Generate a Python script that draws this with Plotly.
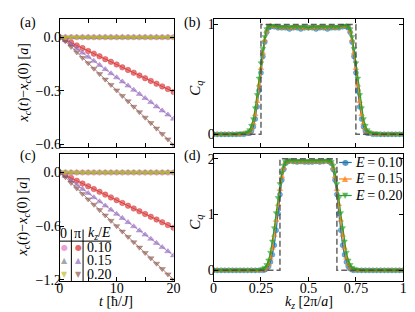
import plotly.graph_objects as go

# ---------------- data ----------------
t = list(range(0, 21))

# panel (a): k_z = pi series
a_pi_010 = [0, -0.013, -0.030, -0.046, -0.061, -0.077, -0.092, -0.107, -0.123, -0.138, -0.153,
            -0.169, -0.184, -0.199, -0.215, -0.230, -0.245, -0.261, -0.276, -0.291, -0.307]
a_pi_015 = [0, -0.017, -0.041, -0.064, -0.087, -0.110, -0.133, -0.156, -0.180, -0.203, -0.226,
            -0.249, -0.272, -0.296, -0.319, -0.342, -0.365, -0.389, -0.412, -0.435, -0.458]
a_pi_020 = [0, -0.022, -0.053, -0.084, -0.115, -0.145, -0.176, -0.206, -0.237, -0.267, -0.298,
            -0.329, -0.359, -0.390, -0.420, -0.451, -0.481, -0.512, -0.543, -0.573, -0.604]
# k_z = 0 series stay at zero
a_0_010 = [0.0] * 21
a_0_015 = [0.0] * 21
a_0_020 = [0.0] * 21

# panel (c)
c_pi_010 = [0, -0.028, -0.061, -0.093, -0.124, -0.155, -0.186, -0.217, -0.248, -0.279, -0.310,
            -0.341, -0.372, -0.403, -0.434, -0.465, -0.496, -0.527, -0.558, -0.589, -0.620]
c_pi_015 = [0, -0.040, -0.091, -0.139, -0.186, -0.232, -0.279, -0.325, -0.372, -0.418, -0.465,
            -0.511, -0.558, -0.604, -0.651, -0.697, -0.744, -0.790, -0.837, -0.883, -0.930]
c_pi_020 = [0, -0.052, -0.116, -0.178, -0.239, -0.300, -0.360, -0.420, -0.480, -0.540, -0.600,
            -0.660, -0.720, -0.780, -0.840, -0.900, -0.960, -1.020, -1.080, -1.140, -1.200]
c_0_010 = [0.0] * 21
c_0_015 = [0.0] * 21
c_0_020 = [0.0] * 21

# panel (b)
kb = [0.00, 0.02, 0.04, 0.06, 0.08, 0.10, 0.12, 0.14, 0.16, 0.18,
      0.19, 0.20, 0.21, 0.22, 0.23, 0.24, 0.25, 0.26, 0.27, 0.28, 0.29, 0.30,
      0.32, 0.34, 0.36, 0.38, 0.40, 0.42, 0.44, 0.46, 0.48, 0.50, 0.52, 0.54, 0.56, 0.58, 0.60, 0.62, 0.64, 0.66, 0.68,
      0.70, 0.71, 0.72, 0.73, 0.74, 0.75, 0.76, 0.77, 0.78, 0.79, 0.80, 0.81,
      0.82, 0.84, 0.86, 0.88, 0.90, 0.92, 0.94, 0.96, 0.98, 1.00]
b_E010 = [0.00, 0.00, 0.00, 0.00, 0.00, 0.00, 0.00, 0.00, 0.00, 0.01,
          0.01, 0.03, 0.07, 0.14, 0.25, 0.40, 0.56, 0.71, 0.84, 0.93, 0.97, 0.98,
          0.98, 0.97, 0.97, 0.97, 0.96, 0.97, 0.97, 0.96, 0.97, 0.97, 0.97, 0.96, 0.97, 0.97, 0.96, 0.97, 0.97, 0.97, 0.98,
          0.98, 0.97, 0.93, 0.84, 0.71, 0.56, 0.40, 0.25, 0.14, 0.07, 0.03, 0.01,
          0.01, 0.00, 0.00, 0.00, 0.00, 0.00, 0.00, 0.00, 0.00, 0.00]
b_E015 = [0.00, 0.00, 0.00, 0.00, 0.00, 0.00, 0.00, 0.00, 0.01, 0.01,
          0.02, 0.05, 0.10, 0.18, 0.30, 0.45, 0.60, 0.74, 0.86, 0.94, 0.98, 0.99,
          0.98, 0.98, 0.97, 0.98, 0.97, 0.97, 0.98, 0.97, 0.97, 0.97, 0.97, 0.97, 0.98, 0.97, 0.97, 0.98, 0.97, 0.98, 0.98,
          0.99, 0.98, 0.94, 0.86, 0.74, 0.60, 0.45, 0.30, 0.18, 0.10, 0.05, 0.02,
          0.01, 0.01, 0.00, 0.00, 0.00, 0.00, 0.00, 0.00, 0.00, 0.00]
b_E020 = [0.00, 0.00, 0.00, 0.00, 0.00, 0.00, 0.00, 0.01, 0.01, 0.02,
          0.04, 0.08, 0.14, 0.24, 0.36, 0.51, 0.65, 0.78, 0.89, 0.96, 0.99, 0.99,
          0.99, 0.98, 0.98, 0.98, 0.98, 0.98, 0.98, 0.98, 0.98, 0.97, 0.98, 0.98, 0.98, 0.98, 0.98, 0.98, 0.98, 0.98, 0.99,
          0.99, 0.99, 0.96, 0.89, 0.78, 0.65, 0.51, 0.36, 0.24, 0.14, 0.08, 0.04,
          0.02, 0.01, 0.01, 0.00, 0.00, 0.00, 0.00, 0.00, 0.00, 0.00]
b_step_k = [0.0, 0.25, 0.25, 0.75, 0.75, 1.0]
b_step_c = [0.0, 0.0, 1.0, 1.0, 0.0, 0.0]

# panel (d)
kd = [0.00, 0.02, 0.04, 0.06, 0.08, 0.10, 0.12, 0.14, 0.16, 0.18, 0.20, 0.22, 0.24, 0.26,
      0.27, 0.28, 0.29, 0.30, 0.31, 0.32, 0.33, 0.34, 0.35, 0.36, 0.37, 0.38, 0.39, 0.40,
      0.42, 0.44, 0.46, 0.48, 0.50, 0.52, 0.54, 0.56, 0.58,
      0.60, 0.61, 0.62, 0.63, 0.64, 0.65, 0.66, 0.67, 0.68, 0.69, 0.70, 0.71, 0.72, 0.73,
      0.74, 0.76, 0.78, 0.80, 0.82, 0.84, 0.86, 0.88, 0.90, 0.92, 0.94, 0.96, 0.98, 1.00]
d_E010 = [0.00, 0.00, 0.00, 0.00, 0.00, 0.00, 0.00, 0.00, 0.00, 0.00, 0.00, 0.00, 0.00, 0.00,
          0.01, 0.03, 0.07, 0.15, 0.28, 0.45, 0.72, 1.02, 1.36, 1.62, 1.81, 1.92, 1.95, 1.96,
          1.95, 1.94, 1.95, 1.94, 1.94, 1.94, 1.95, 1.94, 1.95,
          1.96, 1.95, 1.92, 1.81, 1.62, 1.36, 1.02, 0.72, 0.45, 0.28, 0.15, 0.07, 0.03, 0.01,
          0.00, 0.00, 0.00, 0.00, 0.00, 0.00, 0.00, 0.00, 0.00, 0.00, 0.00, 0.00, 0.00, 0.00]
d_E015 = [0.00, 0.00, 0.00, 0.00, 0.00, 0.00, 0.00, 0.00, 0.00, 0.00, 0.00, 0.00, 0.00, 0.01,
          0.02, 0.05, 0.11, 0.22, 0.40, 0.63, 0.90, 1.18, 1.45, 1.68, 1.84, 1.93, 1.96, 1.96,
          1.95, 1.95, 1.95, 1.95, 1.95, 1.95, 1.95, 1.95, 1.95,
          1.96, 1.96, 1.93, 1.84, 1.68, 1.45, 1.18, 0.90, 0.63, 0.40, 0.22, 0.11, 0.05, 0.02,
          0.01, 0.00, 0.00, 0.00, 0.00, 0.00, 0.00, 0.00, 0.00, 0.00, 0.00, 0.00, 0.00, 0.00]
d_E020 = [0.00, 0.00, 0.00, 0.00, 0.00, 0.00, 0.00, 0.00, 0.00, 0.00, 0.00, 0.00, 0.01, 0.03,
          0.05, 0.10, 0.18, 0.32, 0.52, 0.76, 1.03, 1.30, 1.55, 1.75, 1.88, 1.95, 1.97, 1.97,
          1.96, 1.96, 1.96, 1.96, 1.96, 1.96, 1.96, 1.96, 1.96,
          1.97, 1.97, 1.95, 1.88, 1.75, 1.55, 1.30, 1.03, 0.76, 0.52, 0.32, 0.18, 0.10, 0.05,
          0.03, 0.01, 0.00, 0.00, 0.00, 0.00, 0.00, 0.00, 0.00, 0.00, 0.00, 0.00, 0.00, 0.00]
d_step_k = [0.0, 0.35, 0.35, 0.65, 0.65, 1.0]
d_step_c = [0.0, 0.0, 2.0, 2.0, 0.0, 0.0]

legend_labels = ["0.10", "0.15", "0.20"]

# ---------------- style ----------------
FONT = "Liberation Serif"
W, H = 415, 312

def px_x(p):
    return p / W

def px_y(p):
    return 1 - p / H

RED, PURPLE, BROWN = "214,39,40", "148,103,189", "140,86,75"
PINK, GRAY, OLIVE = "227,119,194", "127,127,127", "188,189,34"
BLUE, ORANGE, GREEN = "31,119,180", "255,127,14", "44,160,44"

def rgba(c, a):
    return "rgba(%s,%s)" % (c, a)

fig = go.Figure()

def add_left(x, y, col, sym, xa, ya):
    fig.add_trace(go.Scatter(
        x=x, y=y, mode="lines+markers", xaxis=xa, yaxis=ya, showlegend=False,
        line=dict(color=rgba(col, 0.9), width=0.8),
        marker=dict(symbol=sym, size=5.5, color=rgba(col, 0.6),
                    line=dict(color=rgba(col, 0.8), width=0.5))))

for (xa, ya, zs, ps) in [("x", "y", (a_0_010, a_0_015, a_0_020), (a_pi_010, a_pi_015, a_pi_020)),
                         ("x3", "y3", (c_0_010, c_0_015, c_0_020), (c_pi_010, c_pi_015, c_pi_020))]:
    add_left(t, ps[0], RED, "circle", xa, ya)
    add_left(t, ps[1], PURPLE, "triangle-up", xa, ya)
    add_left(t, ps[2], BROWN, "triangle-down", xa, ya)
    add_left(t, zs[0], PINK, "circle", xa, ya)
    add_left(t, zs[1], GRAY, "triangle-up", xa, ya)
    add_left(t, zs[2], OLIVE, "triangle-down", xa, ya)

def add_right(x, y, col, sym, xa, ya):
    fig.add_trace(go.Scatter(
        x=x, y=y, mode="lines+markers", xaxis=xa, yaxis=ya, showlegend=False,
        line=dict(color=rgba(col, 1), width=1.2),
        marker=dict(symbol=sym, size=5, color=rgba(col, 0.6),
                    line=dict(color=rgba(col, 0.8), width=0.5))))

for (xa, ya, k, ser) in [("x2", "y2", kb, (b_E010, b_E015, b_E020)),
                         ("x4", "y4", kd, (d_E010, d_E015, d_E020))]:
    for s, col, sym in zip(ser, (BLUE, ORANGE, GREEN), ("circle", "triangle-up", "triangle-down")):
        add_right(k, s, col, sym, xa, ya)

fig.add_trace(go.Scatter(x=b_step_k, y=b_step_c, mode="lines", xaxis="x2", yaxis="y2",
                         showlegend=False, line=dict(color="rgba(70,70,70,0.85)", width=1.5, dash="6px,3px")))
fig.add_trace(go.Scatter(x=d_step_k, y=d_step_c, mode="lines", xaxis="x4", yaxis="y4",
                         showlegend=False, line=dict(color="rgba(70,70,70,0.85)", width=1.5, dash="6px,3px")))

ax_common = dict(showline=True, linecolor="black", linewidth=1, mirror="ticks", ticks="inside",
                 ticklen=4, tickcolor="black", tickwidth=1, showgrid=False, zeroline=False,
                 tickfont=dict(family=FONT, size=14, color="black"))
ax_x = dict(ax_common, ticklabelstandoff=-6)
ax_y = dict(ax_common, ticklabelstandoff=-5)

xl = [px_x(49), px_x(166)]
xr = [px_x(207), px_x(402)]
ytop = [px_y(141), px_y(9)]
ybot = [px_y(279), px_y(148)]

fig.update_layout(
    width=W, height=H, margin=dict(l=0, r=0, t=0, b=0),
    paper_bgcolor="white", plot_bgcolor="white", showlegend=False,
    font=dict(family=FONT, size=14, color="black"),
    xaxis=dict(ax_x, domain=xl, anchor="y", range=[0, 20], tickvals=[0, 5, 10, 15, 20],
               showticklabels=False),
    yaxis=dict(ax_y, domain=ytop, anchor="x", range=[-0.616, 0.104], tickvals=[0, -0.3, -0.6],
               ticktext=["0.0", "\u22120.3", "\u22120.6"]),
    xaxis3=dict(ax_x, domain=xl, anchor="y3", range=[0, 20], tickvals=[0, 5, 10, 15, 20],
                ticktext=["0", "", "10", "", "20"]),
    yaxis3=dict(ax_y, domain=ybot, anchor="x3", range=[-1.215, 0.21], tickvals=[0, -0.6, -1.2],
                ticktext=["0.0", "\u22120.6", "\u22121.2"]),
    xaxis2=dict(ax_x, domain=xr, anchor="y2", range=[0, 1], tickvals=[0, 0.25, 0.5, 0.75, 1],
                showticklabels=False),
    yaxis2=dict(ax_y, domain=ytop, anchor="x2", range=[-0.115, 1.053], tickvals=[0, 1],
                ticktext=["0", "1"]),
    xaxis4=dict(ax_x, domain=xr, anchor="y4", range=[0, 1], tickvals=[0, 0.25, 0.5, 0.75, 1],
                ticktext=["0", "0.25", "0.5", "0.75", "1"]),
    yaxis4=dict(ax_y, domain=ybot, anchor="x4", range=[-0.19, 2.09], tickvals=[0, 1, 2],
                ticktext=["0", "1", "2"]),
)

ann = []
def text(x, y, s, size=14, angle=0, color="black", xanchor="center", family=FONT):
    ann.append(dict(x=px_x(x), y=px_y(y), xref="paper", yref="paper", text=s, showarrow=False,
                    textangle=angle, xanchor=xanchor, yanchor="middle",
                    font=dict(family=family, size=size, color=color)))

ytitle = "<i>x</i><sub><i>c</i></sub>(<i>t</i>)\u2212<i>x</i><sub><i>c</i></sub>(0) [<i>a</i>]"
text(16, 13, "(a)")
text(185, 13, "(b)")
text(16, 150, "(c)")
text(185, 150, "(d)")
text(13, 75, ytitle, angle=-90)
text(12, 213, ytitle, angle=-90)
text(189, 80, "<i>C</i><sub><i>q</i></sub>", size=15, angle=-90)
text(189, 218, "<i>C</i><sub><i>q</i></sub>", size=15, angle=-90)
text(107, 300, "<i>t</i> [\u0127/<i>J</i>]")
text(305, 301, "<i>k</i><sub><i>z</i></sub> [2\u03c0/<i>a</i>]")

# table legend in (c)
text(53, 230, "0")
text(67, 230, "\u03c0")
text(90, 230, "<i>k</i><sub><i>z</i></sub>/<i>E</i>")
rows_y = [245, 258, 272]
glyphs = ["\u25cf", "\u25b2", "\u25bc"]
col0 = [PINK, GRAY, OLIVE]
colpi = [RED, PURPLE, BROWN]
for yy, g, c0, cp, lab in zip(rows_y, glyphs, col0, colpi, legend_labels):
    text(54, yy, g, size=8, color=rgba(c0, 0.7), family="DejaVu Sans")
    text(68, yy, g, size=8, color=rgba(cp, 0.7), family="DejaVu Sans")
    text(75, yy, lab, xanchor="left")

# line legend in (d)
shapes = []
leg_y = [157, 174, 191]
for yy, g, col, lab in zip(leg_y, glyphs, (BLUE, ORANGE, GREEN), legend_labels):
    shapes.append(dict(type="line", xref="paper", yref="paper", x0=px_x(336), x1=px_x(349),
                       y0=px_y(yy), y1=px_y(yy), line=dict(color=rgba(col, 1), width=1.2)))
    text(342.5, yy, g, size=8, color=rgba(col, 0.75), family="DejaVu Sans")
    text(350, yy, "<i>E</i>\u2009=\u2009" + lab, xanchor="left")

shapes += [
    dict(type="line", xref="paper", yref="paper", x0=px_x(49), x1=px_x(102), y0=px_y(238), y1=px_y(238),
         line=dict(color="black", width=1)),
    dict(type="line", xref="paper", yref="paper", x0=px_x(61), x1=px_x(61), y0=px_y(226), y1=px_y(279),
         line=dict(color="black", width=1)),
    dict(type="line", xref="paper", yref="paper", x0=px_x(73), x1=px_x(73), y0=px_y(226), y1=px_y(279),
         line=dict(color="black", width=1)),
]
fig.update_layout(annotations=ann, shapes=shapes)

fig.write_html("out.html")
